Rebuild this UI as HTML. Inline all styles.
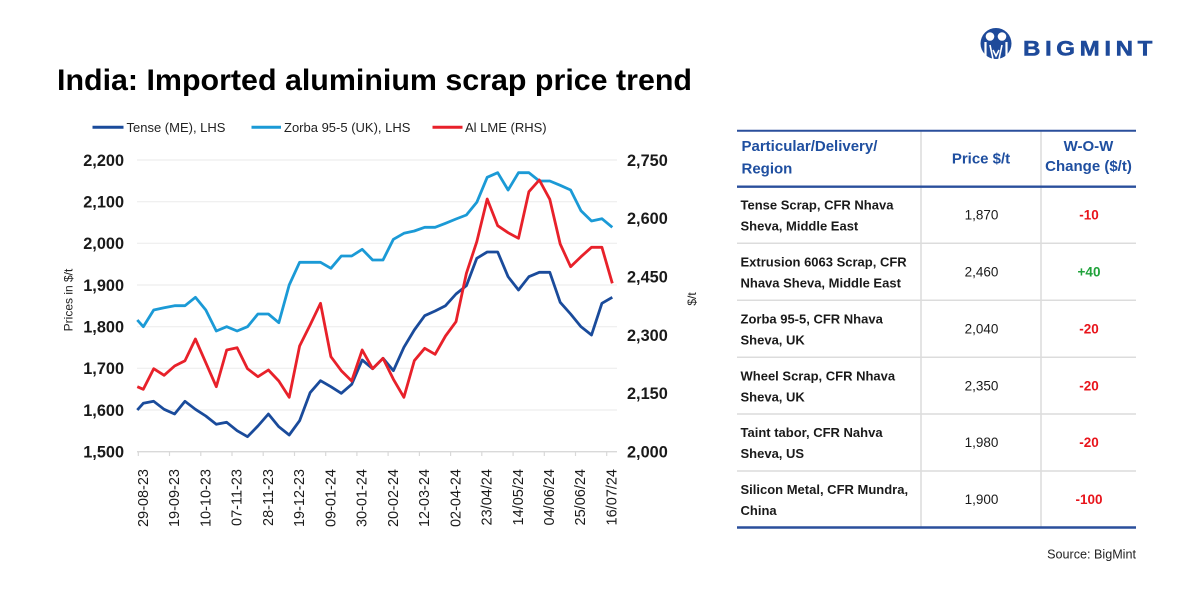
<!DOCTYPE html>
<html>
<head>
<meta charset="utf-8">
<style>
  html, body { margin:0; padding:0; background:#ffffff; }
  body { width:1200px; height:600px; overflow:hidden; }
  svg { display:block; font-family:"Liberation Sans", Arial, sans-serif; }
</style>
</head>
<body>
<svg width="1200" height="600" viewBox="0 0 1200 600" xmlns="http://www.w3.org/2000/svg">
  <rect x="0" y="0" width="1200" height="600" fill="#ffffff"/>

  <!-- Logo -->
  <g>
    <circle cx="996" cy="43.5" r="15.5" fill="#1e4a9a"/>
    <circle cx="990" cy="36.5" r="4.3" fill="#ffffff"/>
    <circle cx="1002" cy="36.5" r="4.3" fill="#ffffff"/>
    <path d="M985.5,42 L985.5,57" stroke="#ffffff" stroke-width="2.2" fill="none"/>
    <path d="M1006.5,42 L1006.5,57" stroke="#ffffff" stroke-width="2.2" fill="none"/>
    <path d="M990,45 L993,59 M1002,45 L999,59 M993,50 L996,56 L999,50" stroke="#ffffff" stroke-width="1.6" fill="none"/>
    <text x="1023" y="55.5" font-size="21" font-weight="bold" fill="#1e4a9a" letter-spacing="4" textLength="134" lengthAdjust="spacingAndGlyphs" stroke="#1e4a9a" stroke-width="0.5">BIGMINT</text>
  </g>

  <!-- Title -->
  <text x="57" y="90" font-size="30" font-weight="bold" fill="#000000" textLength="635" lengthAdjust="spacingAndGlyphs">India: Imported aluminium scrap price trend</text>

  <!-- Legend -->
  <g font-size="13" fill="#222222">
    <line x1="92.5" y1="127.3" x2="123.5" y2="127.3" stroke="#1a4b9b" stroke-width="3"/>
    <text x="126.5" y="132">Tense (ME), LHS</text>
    <line x1="251.5" y1="127.3" x2="281" y2="127.3" stroke="#1b9ad6" stroke-width="3"/>
    <text x="284" y="132">Zorba 95-5 (UK), LHS</text>
    <line x1="432.5" y1="127.3" x2="462.5" y2="127.3" stroke="#e8212a" stroke-width="3"/>
    <text x="465" y="132">Al LME (RHS)</text>
  </g>

  <!-- Gridlines -->
  <g stroke="#eeeeee" stroke-width="1.2">
    <line x1="137" y1="160" x2="617" y2="160"/>
    <line x1="137" y1="201.7" x2="617" y2="201.7"/>
    <line x1="137" y1="243.3" x2="617" y2="243.3"/>
    <line x1="137" y1="285" x2="617" y2="285"/>
    <line x1="137" y1="326.7" x2="617" y2="326.7"/>
    <line x1="137" y1="368.3" x2="617" y2="368.3"/>
    <line x1="137" y1="410" x2="617" y2="410"/>
  </g>
  <!-- X axis -->
  <line x1="137" y1="451.7" x2="617" y2="451.7" stroke="#d9d9d9" stroke-width="1.3"/>
  <g stroke="#d9d9d9" stroke-width="1.2">
    <line x1="138.3" y1="451.7" x2="138.3" y2="456"/>
    <line x1="169.5" y1="451.7" x2="169.5" y2="456"/>
    <line x1="200.8" y1="451.7" x2="200.8" y2="456"/>
    <line x1="232.0" y1="451.7" x2="232.0" y2="456"/>
    <line x1="263.2" y1="451.7" x2="263.2" y2="456"/>
    <line x1="294.5" y1="451.7" x2="294.5" y2="456"/>
    <line x1="325.7" y1="451.7" x2="325.7" y2="456"/>
    <line x1="356.9" y1="451.7" x2="356.9" y2="456"/>
    <line x1="388.1" y1="451.7" x2="388.1" y2="456"/>
    <line x1="419.4" y1="451.7" x2="419.4" y2="456"/>
    <line x1="450.6" y1="451.7" x2="450.6" y2="456"/>
    <line x1="481.8" y1="451.7" x2="481.8" y2="456"/>
    <line x1="513.1" y1="451.7" x2="513.1" y2="456"/>
    <line x1="544.3" y1="451.7" x2="544.3" y2="456"/>
    <line x1="575.5" y1="451.7" x2="575.5" y2="456"/>
    <line x1="606.7" y1="451.7" x2="606.7" y2="456"/>
  </g>

  <!-- X labels -->
  <g font-size="14.5" fill="#1a1a1a" text-anchor="end">
    <text transform="translate(148,469) rotate(-90)">29-08-23</text>
    <text transform="translate(179.2,469) rotate(-90)">19-09-23</text>
    <text transform="translate(210.5,469) rotate(-90)">10-10-23</text>
    <text transform="translate(241.7,469) rotate(-90)">07-11-23</text>
    <text transform="translate(272.9,469) rotate(-90)">28-11-23</text>
    <text transform="translate(304.2,469) rotate(-90)">19-12-23</text>
    <text transform="translate(335.4,469) rotate(-90)">09-01-24</text>
    <text transform="translate(366.6,469) rotate(-90)">30-01-24</text>
    <text transform="translate(397.8,469) rotate(-90)">20-02-24</text>
    <text transform="translate(429.1,469) rotate(-90)">12-03-24</text>
    <text transform="translate(460.3,469) rotate(-90)">02-04-24</text>
    <text transform="translate(491.5,469) rotate(-90)">23/04/24</text>
    <text transform="translate(522.8,469) rotate(-90)">14/05/24</text>
    <text transform="translate(554,469) rotate(-90)">04/06/24</text>
    <text transform="translate(585.2,469) rotate(-90)">25/06/24</text>
    <text transform="translate(616.4,469) rotate(-90)">16/07/24</text>
  </g>

  <!-- Left Y labels -->
  <g font-size="16.3" font-weight="bold" fill="#1a1a1a" text-anchor="end">
    <text x="124" y="165.8">2,200</text>
    <text x="124" y="207.5">2,100</text>
    <text x="124" y="249.1">2,000</text>
    <text x="124" y="290.8">1,900</text>
    <text x="124" y="332.5">1,800</text>
    <text x="124" y="374.1">1,700</text>
    <text x="124" y="415.8">1,600</text>
    <text x="124" y="457.5">1,500</text>
  </g>
  <!-- Right Y labels -->
  <g font-size="16.3" font-weight="bold" fill="#1a1a1a">
    <text x="627" y="165.8">2,750</text>
    <text x="627" y="224.1">2,600</text>
    <text x="627" y="282.5">2,450</text>
    <text x="627" y="340.8">2,300</text>
    <text x="627" y="399.1">2,150</text>
    <text x="627" y="457.5">2,000</text>
  </g>

  <!-- Axis titles -->
  <text transform="translate(72.5,300) rotate(-90)" font-size="12" fill="#222222" text-anchor="middle">Prices in $/t</text>
  <text transform="translate(696,299) rotate(-90)" font-size="12" fill="#222222" text-anchor="middle">$/t</text>

  <!-- Series -->
  <g fill="none" stroke-width="2.8" stroke-linejoin="round" stroke-linecap="butt">
    <polyline stroke="#1a4b9b" points="137.3,410 143.3,403.3 153.7,401.3 164.1,409.3 174.6,414 185.0,401.3 195.4,409.3 205.8,416 216.3,424.3 226.7,422.3 237.1,430.7 247.5,436.7 257.9,426 268.4,414 278.8,426.7 289.2,435 299.6,420.7 310.1,392.7 320.5,380.7 330.9,386.7 341.3,393.3 351.7,384.3 362.2,360 372.6,368.7 383.0,358.3 393.4,370.7 403.9,347.3 414.3,330 424.7,315.7 435.1,311 445.5,305.7 456.0,294 466.4,285.7 476.8,258.3 487.2,252 497.7,252 508.1,276.7 518.5,290 528.9,276.7 539.3,272.3 549.8,272.3 560.2,302.3 570.6,314 581.0,326.7 591.5,335 601.9,303.3 612.3,297.3"/>
    <polyline stroke="#1b9ad6" points="137.3,320 143.3,326.7 153.7,310 164.1,307.7 174.6,305.7 185.0,305.7 195.4,297.3 205.8,310 216.3,331 226.7,326.7 237.1,331 247.5,326.7 257.9,314 268.4,314 278.8,322.7 289.2,285 299.6,262.3 310.1,262.3 320.5,262.3 330.9,268.3 341.3,256 351.7,256 362.2,249.3 372.6,260 383.0,260 393.4,239.3 403.9,233.3 414.3,231 424.7,227.3 435.1,227.3 445.5,223.3 456.0,219 466.4,215 476.8,202.3 487.2,177.3 497.7,172.7 508.1,190 518.5,172.7 528.9,172.7 539.3,181 549.8,181 560.2,185.3 570.6,190 581.0,210.7 591.5,221 601.9,218.7 612.3,227.3"/>
    <polyline stroke="#e8212a" points="137.3,386.7 143.3,389.3 153.7,368.7 164.1,375.3 174.6,366 185.0,360.7 195.4,339 205.8,362.7 216.3,386.7 226.7,350 237.1,347.7 247.5,368.7 257.9,376.7 268.4,370 278.8,381 289.2,397.3 299.6,346 310.1,325 320.5,303.3 330.9,356.7 341.3,370.7 351.7,381 362.2,350 372.6,368.7 383.0,358.3 393.4,379.3 403.9,397.3 414.3,360.7 424.7,348.3 435.1,354.3 445.5,336 456.0,321.7 466.4,273.3 476.8,241.7 487.2,199 497.7,225.7 508.1,232.7 518.5,238.3 528.9,191.7 539.3,180 549.8,199.3 560.2,244 570.6,266.7 581.0,256.7 591.5,247.3 601.9,247.3 612.3,283.3"/>
  </g>

  <!-- Table -->
  <g>
    <line x1="921" y1="131" x2="921" y2="527" stroke="#dcdcdc" stroke-width="1.5"/>
    <line x1="1041" y1="131" x2="1041" y2="527" stroke="#dcdcdc" stroke-width="1.5"/>
    <g stroke="#dcdcdc" stroke-width="1.5">
      <line x1="737" y1="243.3" x2="1136" y2="243.3"/>
      <line x1="737" y1="300.3" x2="1136" y2="300.3"/>
      <line x1="737" y1="357.3" x2="1136" y2="357.3"/>
      <line x1="737" y1="414" x2="1136" y2="414"/>
      <line x1="737" y1="471" x2="1136" y2="471"/>
    </g>
    <line x1="737" y1="130.7" x2="1136" y2="130.7" stroke="#2a4f9c" stroke-width="2"/>
    <line x1="737" y1="186.7" x2="1136" y2="186.7" stroke="#2a4f9c" stroke-width="2.4"/>
    <line x1="737" y1="527.5" x2="1136" y2="527.5" stroke="#2a4f9c" stroke-width="2.4"/>

    <g font-size="15" font-weight="bold" fill="#1f4fa0">
      <text x="741.5" y="151">Particular/Delivery/</text>
      <text x="741.5" y="173.5">Region</text>
      <text x="981" y="163.5" text-anchor="middle">Price $/t</text>
      <text x="1088.5" y="151" text-anchor="middle">W-O-W</text>
      <text x="1088.5" y="171" text-anchor="middle">Change ($/t)</text>
    </g>

    <g font-size="13" font-weight="bold" fill="#1a1a1a">
      <text x="740.5" y="209.5">Tense Scrap, CFR Nhava</text>
      <text x="740.5" y="230.5">Sheva, Middle East</text>
      <text x="740.5" y="266.5">Extrusion 6063 Scrap, CFR</text>
      <text x="740.5" y="287.5">Nhava Sheva, Middle East</text>
      <text x="740.5" y="323.5">Zorba 95-5, CFR Nhava</text>
      <text x="740.5" y="344.5">Sheva, UK</text>
      <text x="740.5" y="380.5">Wheel Scrap, CFR Nhava</text>
      <text x="740.5" y="401.5">Sheva, UK</text>
      <text x="740.5" y="437">Taint tabor, CFR Nahva</text>
      <text x="740.5" y="458">Sheva, US</text>
      <text x="740.5" y="494">Silicon Metal, CFR Mundra,</text>
      <text x="740.5" y="515">China</text>
    </g>
    <g font-size="13.5" fill="#1a1a1a" text-anchor="middle">
      <text x="981.5" y="219.5">1,870</text>
      <text x="981.5" y="276.5">2,460</text>
      <text x="981.5" y="333.5">2,040</text>
      <text x="981.5" y="390.5">2,350</text>
      <text x="981.5" y="447">1,980</text>
      <text x="981.5" y="504">1,900</text>
    </g>
    <g font-size="13.5" font-weight="bold" text-anchor="middle">
      <text x="1089" y="219.5" fill="#e8141b">-10</text>
      <text x="1089" y="276.5" fill="#1fa23a">+40</text>
      <text x="1089" y="333.5" fill="#e8141b">-20</text>
      <text x="1089" y="390.5" fill="#e8141b">-20</text>
      <text x="1089" y="447" fill="#e8141b">-20</text>
      <text x="1089" y="504" fill="#e8141b">-100</text>
    </g>
  </g>

  <text x="1136" y="558.5" font-size="12.6" fill="#222222" text-anchor="end">Source: BigMint</text>
</svg>
</body>
</html>
